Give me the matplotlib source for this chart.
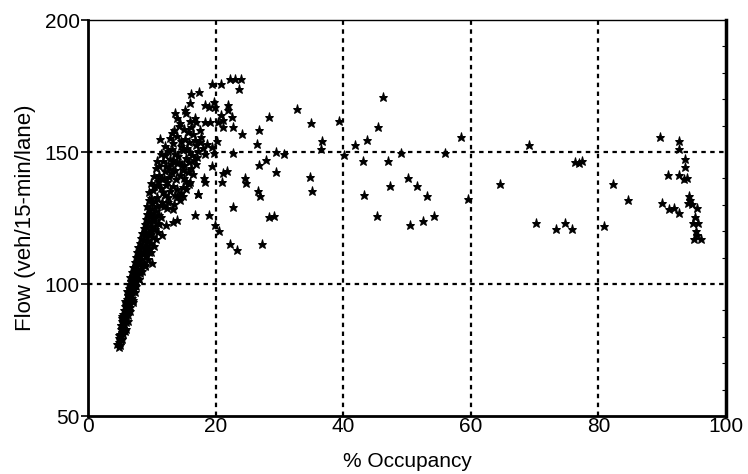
import matplotlib
matplotlib.use("Agg")
import matplotlib.pyplot as plt
from matplotlib.ticker import MultipleLocator

plt.rcParams['font.family'] = ['Liberation Sans', 'DejaVu Sans']

# ---- data: (occupancy %, flow veh/15-min/lane) ----
band_occ = [4.8, 5.0, 4.9, 5.1, 4.8, 5.2, 5.0, 5.3, 5.1, 5.4, 5.2, 5.6, 5.3, 5.7, 5.4, 5.8,
            5.5, 6.0, 5.7, 6.1, 5.8, 6.3, 5.9, 6.4, 6.1, 6.5, 6.2, 6.7, 6.3, 6.8, 6.4, 6.9,
            6.5, 7.1, 6.7, 7.3, 6.6, 7.0, 7.5, 6.9, 7.3, 7.8, 7.1, 7.6, 8.0, 7.3, 7.8, 8.3,
            7.5, 8.0, 8.6, 7.7, 8.3, 8.9, 7.9, 8.5, 9.2, 8.1, 8.7, 9.4, 8.3, 8.9, 9.6, 8.5,
            9.1, 9.8, 8.7, 9.3, 10.0, 8.9, 9.5, 10.2, 9.1, 9.7, 10.4, 9.3, 9.9, 10.6, 9.5,
            10.1, 10.8,
            5.5, 5.9, 6.2, 6.6, 6.9, 7.2, 7.7, 8.2, 8.7, 9.1, 9.5, 9.9, 10.2, 10.5, 10.9,
            11.1, 7.3, 6.0, 6.9, 7.6, 8.1, 8.9, 9.6, 9.0, 8.0, 7.0, 5.6, 6.4, 10.3, 9.8,
            5.4, 5.8, 6.2, 6.6, 7.0, 7.3, 7.6, 8.0, 8.4, 8.9, 9.4, 9.9, 10.3, 10.6, 10.9,
            11.1, 11.4, 4.6, 4.9, 5.1, 5.4, 5.8, 6.1,
            10.0, 11.6, 12.3, 13.4, 13.9, 9.5]
band_flow = [76.2, 77.0, 78.1, 78.9, 79.6, 80.3, 81.2, 81.9, 82.8, 83.5, 84.3, 84.9, 85.8,
             86.4, 87.2, 87.9, 88.7, 89.3, 90.1, 90.8, 91.6, 92.1, 92.9, 93.6, 94.3, 95.0,
             95.8, 96.3, 97.1, 97.8, 98.6, 99.2, 100.0, 100.6, 101.3, 101.9, 102.6, 103.2,
             103.8, 104.5, 105.1, 105.7, 106.4, 107.0, 107.6, 108.3, 108.9, 109.4, 110.1,
             110.8, 111.3, 112.0, 112.6, 113.1, 113.9, 114.4, 114.9, 115.7, 116.2, 116.8,
             117.5, 118.0, 118.5, 119.3, 119.8, 120.3, 121.1, 121.6, 122.1, 122.9, 123.4,
             123.9, 124.7, 125.2, 125.7, 126.5, 127.0, 127.6, 128.3, 128.9, 129.4,
             80.9, 85.6, 88.2, 91.4, 94.7, 98.1, 102.4, 105.0, 108.0, 110.7, 112.2, 115.5,
             117.9, 120.9, 123.2, 126.3, 99.8, 83.0, 97.0, 101.0, 104.2, 106.7, 113.6,
             111.9, 102.0, 93.2, 86.9, 90.0, 125.0, 119.0,
             79.3, 82.1, 86.0, 89.9, 93.9, 96.8, 99.4, 101.8, 104.8, 107.3, 109.6, 112.0,
             114.3, 117.0, 119.8, 122.6, 125.4, 77.4, 80.8, 84.6, 88.0, 93.7, 97.5,
             108.0, 118.6, 122.2, 123.6, 124.2, 131.8]

cloud_occ = [9.3, 10.1, 11.4, 12.6, 13.5, 9.8, 10.8, 12.1, 13.9, 14.6, 10.2, 11.5, 12.9,
             13.4, 14.9, 9.9, 10.9, 12.4, 13.8, 15.3, 11.2, 11.9, 13.1, 14.4, 15.7, 10.6,
             12.3, 13.6, 14.8, 16.1, 11.8, 12.9, 14.2, 15.4, 16.6, 11.4, 12.5, 13.7, 14.9,
             16.0, 17.3, 18.4, 12.1, 13.3, 14.6, 15.8, 17.0, 18.7, 12.8, 14.0, 15.2, 16.5,
             17.7, 13.5, 15.0, 16.2, 17.5, 14.4, 16.0, 10.5, 11.0, 12.0, 13.0, 14.1, 15.5,
             16.8, 11.7, 12.7, 13.2, 14.5, 15.9, 16.4, 14.0, 15.1, 17.1, 18.0, 13.4, 12.2,
             9.6, 10.4, 11.1, 13.7, 14.9, 15.8, 16.9, 11.6, 12.4, 13.3, 11.3,
             10.3, 11.6, 12.8, 13.9, 15.1, 16.3, 17.6, 15.6, 14.3, 13.1, 12.0, 10.8, 12.5,
             11.9, 14.4, 14.9, 15.4, 16.0]
cloud_flow = [129.5, 130.8, 129.9, 131.2, 130.4, 132.7, 133.1, 133.9, 132.8, 134.5, 135.6,
              136.2, 135.4, 137.3, 136.8, 138.2, 139.0, 138.6, 139.7, 138.9, 141.3, 140.1,
              142.0, 141.4, 142.6, 143.8, 144.6, 143.2, 144.9, 144.0, 146.7, 147.5, 146.3,
              147.9, 146.8, 149.1, 150.2, 149.4, 150.8, 149.9, 150.5, 149.2, 152.3, 153.4,
              152.1, 153.8, 152.6, 153.0, 155.4, 156.2, 155.1, 156.7, 155.6, 158.3, 158.9,
              159.5, 158.4, 161.0, 161.7, 131.5, 137.6, 142.8, 145.5, 148.4, 151.6, 154.7,
              134.7, 140.6, 151.0, 154.3, 146.2, 141.8, 135.8, 140.0, 148.2, 151.7, 147.0,
              137.4, 134.9, 137.0, 144.8, 133.9, 143.1, 137.8, 145.3, 131.0, 128.9, 128.4,
              154.8,
              141.0, 139.6, 143.6, 145.9, 145.0, 148.7, 153.7, 157.5, 159.8, 157.3, 148.9,
              146.6, 133.0, 129.4, 131.9, 133.2, 135.9, 138.8]

peak_occ = [22.3, 23.1, 24.0, 23.6, 19.5, 20.9, 16.1, 17.4, 13.6, 14.0, 15.2, 15.4, 16.0,
            16.8, 16.9, 18.3, 18.9, 19.7, 19.9, 22.0, 22.0, 20.9, 22.5, 21.2, 18.3, 19.1,
            20.4, 22.8, 21.2, 20.2, 19.4, 19.7, 22.8, 19.4, 21.2, 21.8, 21.0, 18.2, 18.3,
            17.3, 22.8, 16.7, 19.0, 19.9, 20.6, 22.3, 23.3, 17.2]
peak_flow = [177.7, 177.7, 177.7, 173.8, 175.8, 175.8, 172.0, 172.7, 164.7, 162.8, 165.9,
             164.7, 168.4, 162.8, 161.5, 167.8, 167.2, 169.1, 167.2, 167.8, 165.9, 164.0,
             163.4, 162.1, 161.5, 161.5, 161.5, 159.6, 159.6, 154.3, 151.8, 149.7, 149.7,
             144.7, 142.2, 142.8, 138.8, 140.0, 138.8, 134.1, 129.3, 126.0, 126.0, 122.3,
             120.2, 115.0, 112.9, 134.0]

mid_occ = [24.2, 28.4, 26.8, 26.5, 32.7, 35.0, 39.3, 36.6, 36.5, 29.4, 30.7, 27.9, 26.8,
           29.5, 24.6, 24.8, 26.7, 26.9, 34.8, 35.1, 28.4, 29.2, 27.3, 40.2, 41.8, 43.7,
           45.5, 46.3, 43.1, 47.1, 49.1, 56.0, 58.5, 59.6, 43.3, 47.4, 50.1, 51.6, 53.2,
           54.2, 52.5, 50.4, 45.3]
mid_flow = [156.7, 163.4, 158.4, 152.9, 166.4, 160.9, 161.6, 154.0, 151.1, 149.9, 149.2,
            146.9, 145.0, 142.4, 140.2, 138.3, 135.1, 133.3, 140.6, 135.2, 125.4, 125.9,
            115.0, 149.0, 152.7, 154.5, 159.6, 170.7, 146.7, 146.7, 149.7, 149.7, 155.8,
            132.2, 133.8, 137.0, 140.0, 137.0, 133.3, 125.9, 124.0, 122.2, 125.9]

high_occ = [69.2, 76.3, 77.0, 77.5, 64.6, 70.2, 73.3, 74.8, 75.8, 80.9, 82.3, 84.7, 89.7,
            92.6, 92.6, 93.6, 93.6, 90.9, 92.6, 93.4, 93.9, 90.0, 91.1, 91.8, 92.6, 94.2,
            94.4, 94.0, 94.6, 95.4, 95.1, 94.8, 95.6, 95.3, 95.0, 96.1, 95.5]
high_flow = [152.5, 146.3, 145.7, 146.6, 137.9, 123.2, 121.0, 123.2, 120.7, 122.0, 137.8,
             131.8, 155.6, 154.3, 151.1, 147.5, 144.4, 141.4, 141.4, 139.8, 140.3, 130.6,
             128.3, 128.8, 126.8, 133.3, 131.8, 130.8, 130.3, 128.9, 125.5, 123.0, 123.0,
             120.2, 117.0, 117.0, 118.6]

x_ticks = [0, 20, 40, 60, 80, 100]
y_ticks = [50, 100, 150, 200]

occ = band_occ + cloud_occ + peak_occ + mid_occ + high_occ
flow = band_flow + cloud_flow + peak_flow + mid_flow + high_flow

fig = plt.figure(figsize=(7.48, 4.74), dpi=100)
ax = fig.add_axes([88 / 748, 1 - 416 / 474, (726 - 88) / 748, (416 - 20) / 474])

ax.plot(occ, flow, linestyle='none', marker='*', markersize=6.5,
        color='black', markeredgewidth=0.7, zorder=3)

ax.set_xlim(0, 100)
ax.set_ylim(50, 200)
ax.set_xticks(x_ticks)
ax.set_yticks(y_ticks)
ax.set_xticklabels([str(v) for v in x_ticks], fontsize=15)
ax.set_yticklabels([str(v) for v in y_ticks], fontsize=15)

for v in x_ticks[1:-1]:
    ax.axvline(v, color='black', linestyle=(0, (2.0, 2.0)), linewidth=1.6, zorder=1)
for v in y_ticks[1:-1]:
    ax.axhline(v, color='black', linestyle=(0, (2.0, 2.0)), linewidth=1.6, zorder=1)

ax.tick_params(axis='y', direction='out', length=5, width=1.2, pad=1)
ax.tick_params(axis='x', direction='out', length=0, width=1.2, pad=1)
ax.yaxis.set_minor_locator(MultipleLocator(10))
ax.tick_params(axis='y', which='minor', right=True, left=False, direction='in', length=3, width=0.8)

for s, w in (('left', 2.0), ('bottom', 2.0), ('right', 2.5), ('top', 1.0)):
    ax.spines[s].set_linewidth(w)
    ax.spines[s].set_color('black')

ax.set_xlabel('% Occupancy', fontsize=15, labelpad=11)
ax.set_ylabel('Flow (veh/15-min/lane)', fontsize=16, labelpad=6)

fig.savefig('out.png', dpi=100)
